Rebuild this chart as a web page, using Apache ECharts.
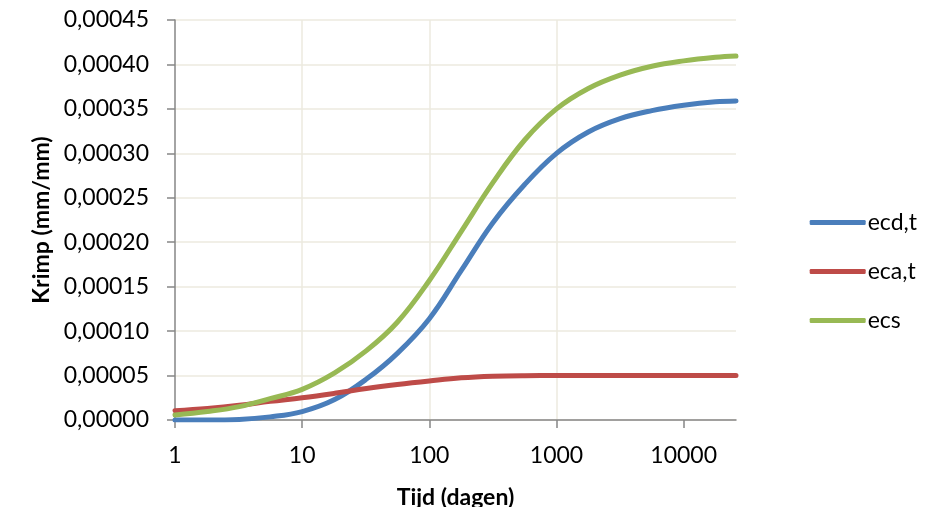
<!DOCTYPE html>
<html>
<head>
<meta charset="utf-8">
<script src="https://cdn.jsdelivr.net/npm/echarts@6/dist/echarts.min.js"></script>
<style>
  html, body { margin: 0; padding: 0; background: #fff; }
  #chart { width: 932px; height: 507px; }
</style>
</head>
<body>
<div id="chart"></div>
<script>
// tijd in dagen (log-as)
const tijd = [1, 1.8, 3.2, 5.6, 10, 18, 32, 56, 100, 178, 316, 562, 1000, 1778, 3162, 5623, 10000, 17783, 25800];

const ecd = [0, 0, 0.0000006, 0.0000035, 0.0000095, 0.000023, 0.000046, 0.000075, 0.000114, 0.000168, 0.000222, 0.000265, 0.000300, 0.000324, 0.000339, 0.000348, 0.000354, 0.000358, 0.000359];
const eca = [0.0000105, 0.000013, 0.0000165, 0.000021, 0.000025, 0.000030, 0.0000355, 0.000040, 0.000044, 0.0000475, 0.0000493, 0.0000499, 0.00005, 0.00005, 0.00005, 0.00005, 0.00005, 0.00005, 0.00005];
const ecs = [0.0000056, 0.0000095, 0.000015, 0.000024, 0.0000345, 0.000053, 0.000078, 0.000110, 0.000157, 0.000212, 0.000267, 0.000315, 0.000350, 0.000373, 0.000388, 0.000398, 0.000404, 0.000408, 0.0004095];

const xTicks = [1, 10, 100, 1000, 10000];
const namen = ['ecd,t', 'eca,t', 'ecs'];
const kleuren = ['#4A7EBB', '#BE4B48', '#98B954'];

const font = 'Lato, "Noto Sans", sans-serif';

let chart = echarts.init(document.getElementById('chart'), null, { renderer: 'canvas' });

let maakSerie = (naam, waarden, kleur) => {
    return {
        name: naam,
        type: 'line',
        data: tijd.map((t, i) => [t, waarden[i]]),
        smooth: 0.4,
        showSymbol: false,
        lineStyle: { width: 5, color: kleur, cap: 'round' },
        itemStyle: { color: kleur },
        z: 3
    }
}

const option = {
    animation: false,
    grid: { left: 175, right: 196, top: 20, bottom: 87, containLabel: false, outerBoundsMode: 'none' },
    legend: {
        orient: 'vertical',
        right: 10,
        top: 206,
        data: namen,
        icon: 'roundRect',
        itemWidth: 56,
        itemHeight: 5,
        itemGap: 26,
        textStyle: { fontFamily: font, fontSize: 23, color: '#000', lineHeight: 22, padding: [0, 0, 0, -3] }
    },
    xAxis: {
        type: 'log',
        logBase: 10,
        min: 1,
        max: 25800,
        name: 'Tijd (dagen)',
        nameLocation: 'middle',
        nameGap: 66,
        nameTextStyle: { fontFamily: font, fontSize: 23, fontWeight: 'bold', color: '#000' },
        axisLine: { lineStyle: { color: '#868686', width: 1.5 } },
        axisTick: { show: true, inside: false, length: 8, customValues: xTicks, lineStyle: { color: '#868686', width: 1.5 } },
        axisLabel: {
            customValues: xTicks, fontFamily: font, fontSize: 23, color: '#000', margin: 24,
            formatter: (v) => String(Math.round(v))
        },
        splitLine: { show: true, showMinLine: false, showMaxLine: false, lineStyle: { color: '#EDEADF', width: 1.5 } },
        minorTick: { show: false },
        minorSplitLine: { show: false }
    },
    yAxis: {
        type: 'value',
        min: 0,
        max: 0.00045,
        interval: 0.00005,
        name: 'Krimp (mm/mm)',
        nameLocation: 'middle',
        nameGap: 122,
        nameTextStyle: { fontFamily: font, fontSize: 23, fontWeight: 'bold', color: '#000' },
        axisLine: { show: true, lineStyle: { color: '#868686', width: 1.5 } },
        axisTick: { show: true, inside: false, length: 8, lineStyle: { color: '#868686', width: 1.5 } },
        axisLabel: {
            fontFamily: font, fontSize: 23, color: '#000', margin: 26,
            formatter: (v) => v.toFixed(5).replace('.', ',')
        },
        splitLine: { show: true, lineStyle: { color: '#EDEADF', width: 1.5 } }
    },
    series: [
        maakSerie(namen[0], ecd, kleuren[0]),
        maakSerie(namen[1], eca, kleuren[1]),
        maakSerie(namen[2], ecs, kleuren[2])
    ]
};

chart.setOption(option);
</script>
</body>
</html>
